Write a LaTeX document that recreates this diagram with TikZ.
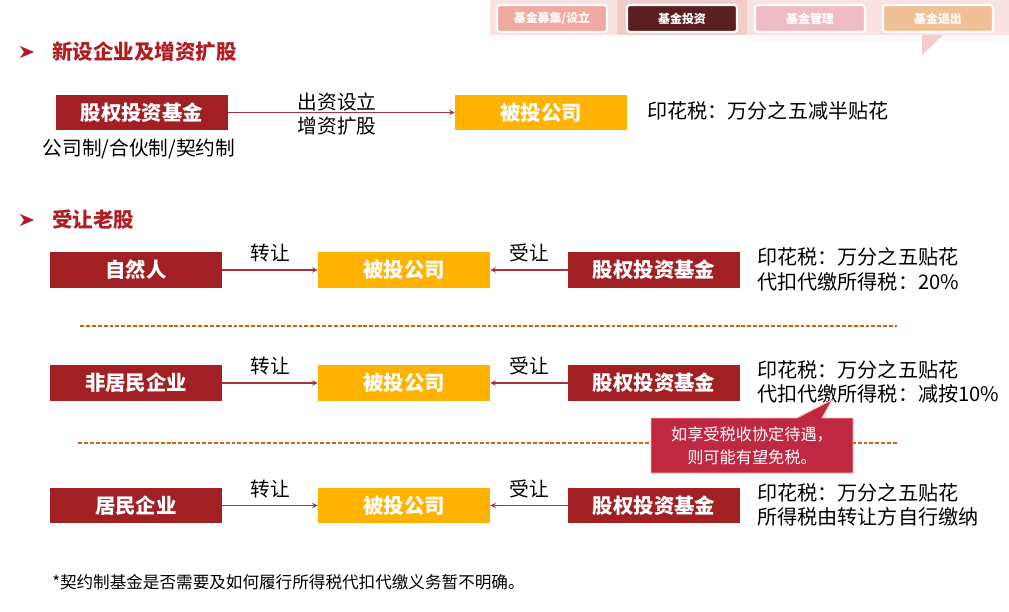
\documentclass[tikz,border=0pt]{standalone}
\usepackage{fontspec}
\setmainfont{Noto Sans CJK SC}
\usetikzlibrary{positioning, calc, arrows}
\definecolor{fundred}{HTML}{A21F24}
\definecolor{firmgold}{HTML}{FFB300}
\definecolor{linkred}{HTML}{A8343A}
\definecolor{headred}{HTML}{B01E24}
\definecolor{dashorange}{HTML}{CC641C}
\definecolor{calloutred}{HTML}{BE2841}
\definecolor{bandpink}{HTML}{F8E2E2}
\definecolor{activepink}{HTML}{F2CBCB}
\definecolor{tabone}{HTML}{F2A9A2}
\definecolor{tabtwo}{HTML}{5C1F1F}
\definecolor{tabthree}{HTML}{F0BCC4}
\definecolor{tabfour}{HTML}{F0C197}

\begin{document}
\begin{tikzpicture}[x=0.025cm, y=-0.025cm, >=stealth,
    fund/.style={fill=fundred, text=white, minimum width=4.3cm, minimum height=0.875cm,
      inner sep=0pt, font=\bfseries\fontsize{14.5}{16}\selectfont},
    firm/.style={fund, fill=firmgold},
    link/.style={->, draw=linkred, line width=0.8pt},
    linklabel/.style={font=\fontsize{14}{16}\selectfont, inner sep=0pt},
    note/.style={anchor=west, align=left, inner sep=0pt,
      font=\fontsize{14.3}{17.5}\selectfont},
    head/.style={anchor=west, inner sep=0pt, text=headred,
      font=\bfseries\fontsize{14.6}{16}\selectfont},
    tab/.style={rounded corners=2pt, draw=white, line width=1.5pt, text=white,
      minimum width=2.75cm, minimum height=0.675cm, inner sep=0pt,
      font=\bfseries\fontsize{8.5}{10}\selectfont},
    split/.style={draw=dashorange, dash pattern=on 2.8pt off 1.4pt, line width=0.9pt}]
  \useasboundingbox (0,0) rectangle (1009,612);

  \fill[bandpink] (490,0) rectangle (1009,35);
  \fill[activepink] (617,0) rectangle (747,35);
  \fill[black!2] (747,35) rectangle (1009,42);
  \fill[activepink] (922,35) -- (943,35) -- (922,55) -- cycle;
  \node[tab, fill=tabone] (tabraise) at (552,18.5) {基金募集/设立};
  \node[tab, fill=tabtwo] (tabinvest) at (682,18.5) {基金投资};
  \node[tab, fill=tabthree] (tabmanage) at (810,18.5) {基金管理};
  \node[tab, fill=tabfour] (tabexit) at (938,18.5) {基金退出};

  \fill[headred] (20,46) -- (34,52) -- (20,58) -- (24,52) -- cycle;
  \node[head] (headnew) at (52,52) {新设企业及增资扩股};
  \fill[headred] (20,214) -- (34,220) -- (20,226) -- (24,220) -- cycle;
  \node[head] (headold) at (52,220) {受让老股};

  \node[fund] (fundnew) at (142,112.5) {股权投资基金};
  \node[firm] (firmnew) at (541,112.5) {被投公司};
  \draw[link] (fundnew) -- (firmnew);
  \node[linklabel] (setup) at (337,102) {出资设立};
  \node[linklabel] (raise) at (337,126) {增资扩股};
  \node[note] (taxnew) at (647,111) {印花税：万分之五减半贴花};
  \node[linklabel] (forms) at (139,149) {公司制/合伙制/契约制};

  \node[fund] (person) at (136,270) {自然人};
  \node[firm] (firmA) at (404,270) {被投公司};
  \node[fund] (fundA) at (654,270) {股权投资基金};
  \draw[link] (person) -- node[linklabel, above=5pt] {转让} (firmA);
  \draw[link] (fundA) -- node[linklabel, above=5pt] {受让} (firmA);
  \node[note] (taxA) at (757,269.5) {印花税：万分之五贴花\\代扣代缴所得税：20\%};

  \draw[split] (80,326) -- (897,326);

  \node[fund] (foreign) at (136,383) {非居民企业};
  \node[firm] (firmB) at (404,383) {被投公司};
  \node[fund] (fundB) at (654,383) {股权投资基金};
  \draw[link] (foreign) -- node[linklabel, above=5pt] {转让} (firmB);
  \draw[link] (fundB) -- node[linklabel, above=5pt] {受让} (firmB);
  \node[note] (taxB) at (757,382) {印花税：万分之五贴花\\代扣代缴所得税：减按10\%};

  \draw[split] (78,443) -- (897,443);

  \draw[fill=calloutred, draw=red!30, line width=0.6pt]
    (651,418) -- (797,418) -- (832,400) -- (822,418) -- (853,418)
    -- (853,473) -- (651,473) -- cycle;
  \node[align=center, text=white, inner sep=0pt, font=\fontsize{11.5}{16}\selectfont]
    (treaty) at (752,446) {如享受税收协定待遇，\\则可能有望免税。};

  \node[fund] (domestic) at (136,505.5) {居民企业};
  \node[firm] (firmC) at (404,505.5) {被投公司};
  \node[fund] (fundC) at (654,505.5) {股权投资基金};
  \draw[link] (domestic) -- node[linklabel, above=5pt] {转让} (firmC);
  \draw[link] (fundC) -- node[linklabel, above=5pt] {受让} (firmC);
  \node[note] (taxC) at (757,505) {印花税：万分之五贴花\\所得税由转让方自行缴纳};

  \node[anchor=west, inner sep=0pt, font=\fontsize{11.8}{13}\selectfont] (footnote)
    at (52,582) {*契约制基金是否需要及如何履行所得税代扣代缴义务暂不明确。};
\end{tikzpicture}
\end{document}
